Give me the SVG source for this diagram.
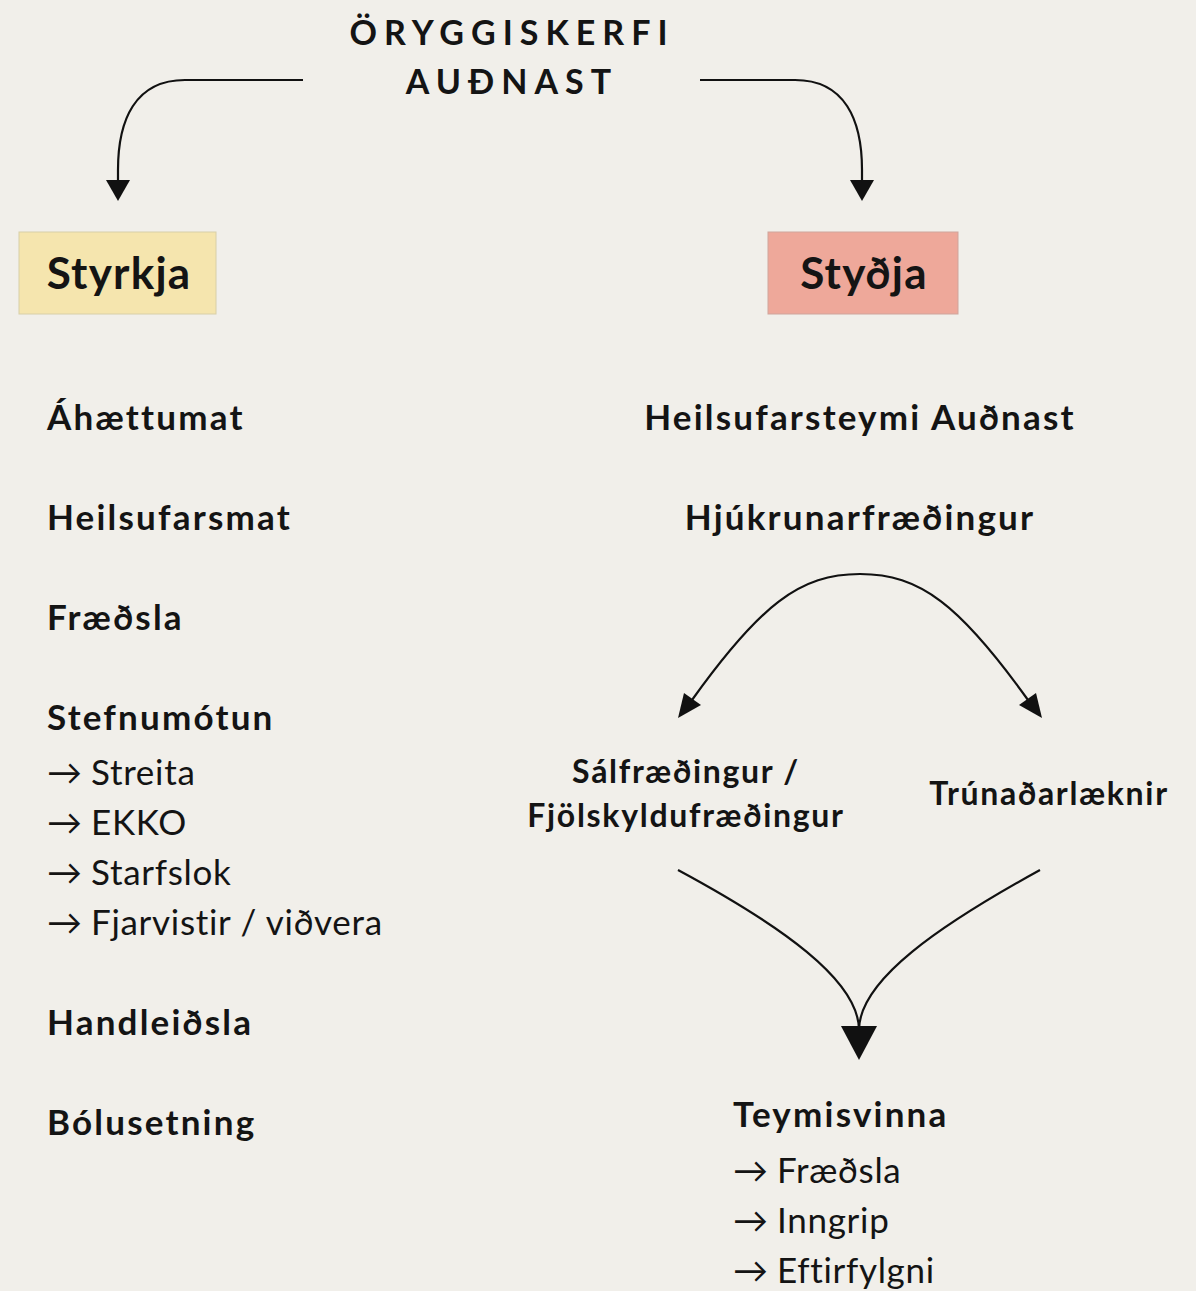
<svg xmlns="http://www.w3.org/2000/svg" width="1196" height="1291" viewBox="0 0 1196 1291">
<defs>
<style>
.t{font-family:Lato,"Open Sans","Liberation Sans",sans-serif;fill:#141414}
.h{font-size:35px;font-weight:700;letter-spacing:2.2px}
.r{font-size:35px;font-weight:400;letter-spacing:0.7px}
.m{font-size:32px;font-weight:700;letter-spacing:1.7px}
.ttl{font-size:34px;font-weight:700;letter-spacing:7px}
.bx{font-size:44px;font-weight:700;letter-spacing:1.2px}
.c{fill:none;stroke:#111;stroke-width:2.2}
</style>
</defs>
<rect width="1196" height="1291" fill="#f1efea"/>

<g id="title">
<text class="t ttl" x="512" y="45" text-anchor="middle">ÖRYGGISKERFI</text>
<text class="t ttl" x="512" y="94" text-anchor="middle">AUÐNAST</text>
</g>

<g id="connectors">
<path class="c" d="M303,80 L185,80 C135,80 118,120 118,170 L118,182"/>
<path d="M106,180 L130,180 L118,201 Z" fill="#111"/>
<path class="c" d="M700,80 L795,80 C845,80 862,120 862,170 L862,182"/>
<path d="M850,180 L874,180 L862,201 Z" fill="#111"/>
<path class="c" d="M692,700 C760,605 800,574 860,574 C920,574 960,605 1028,700"/>
<path d="M678,718 L684,693 L701,705 Z" fill="#111"/>
<path d="M1042,718 L1019,705 L1036,693 Z" fill="#111"/>
<path class="c" d="M678,870 C780,925 859,980 859,1030"/>
<path class="c" d="M1040,870 C940,925 859,980 859,1030"/>
<path d="M841,1026 L877,1026 L859,1060 Z" fill="#111"/>
</g>

<g id="styrkja">
<rect x="19" y="232" width="197" height="82" fill="#f5e5ae" stroke="#d8cfa8" stroke-width="1"/>
<text class="t bx" x="119" y="289" text-anchor="middle">Styrkja</text>
</g>
<g id="stydja">
<rect x="768" y="232" width="190" height="82" fill="#eea89a" stroke="#cfa59c" stroke-width="1"/>
<text class="t bx" x="864" y="289" text-anchor="middle">Styðja</text>
</g>

<g id="left-list">
<text class="t h" x="47" y="430">Áhættumat</text>
<text class="t h" x="47" y="530">Heilsufarsmat</text>
<text class="t h" x="47" y="630">Fræðsla</text>
<text class="t h" x="47" y="730">Stefnumótun</text>
<text class="t r" x="47" y="785">→</text><text class="t r" x="91" y="785">Streita</text>
<text class="t r" x="47" y="835">→</text><text class="t r" x="91" y="835">EKKO</text>
<text class="t r" x="47" y="885">→</text><text class="t r" x="91" y="885">Starfslok</text>
<text class="t r" x="47" y="935">→</text><text class="t r" x="91" y="935">Fjarvistir / viðvera</text>
<text class="t h" x="47" y="1035">Handleiðsla</text>
<text class="t h" x="47" y="1135">Bólusetning</text>
</g>

<g id="heilsufarsteymi">
<text class="t h" x="860" y="430" text-anchor="middle">Heilsufarsteymi Auðnast</text>
</g>
<g id="hjukrun">
<text class="t h" x="860" y="530" text-anchor="middle">Hjúkrunarfræðingur</text>
</g>
<g id="salfr">
<text class="t m" x="686" y="783" text-anchor="middle">Sálfræðingur /</text>
<text class="t m" x="686" y="827" text-anchor="middle">Fjölskyldufræðingur</text>
</g>
<g id="trunadar">
<text class="t m" x="1049" y="805" text-anchor="middle">Trúnaðarlæknir</text>
</g>
<g id="teymisvinna">
<text class="t h" x="733" y="1127">Teymisvinna</text>
<text class="t r" x="733" y="1183">→</text><text class="t r" x="777" y="1183">Fræðsla</text>
<text class="t r" x="733" y="1233">→</text><text class="t r" x="777" y="1233">Inngrip</text>
<text class="t r" x="733" y="1283">→</text><text class="t r" x="777" y="1283">Eftirfylgni</text>
</g>
</svg>
